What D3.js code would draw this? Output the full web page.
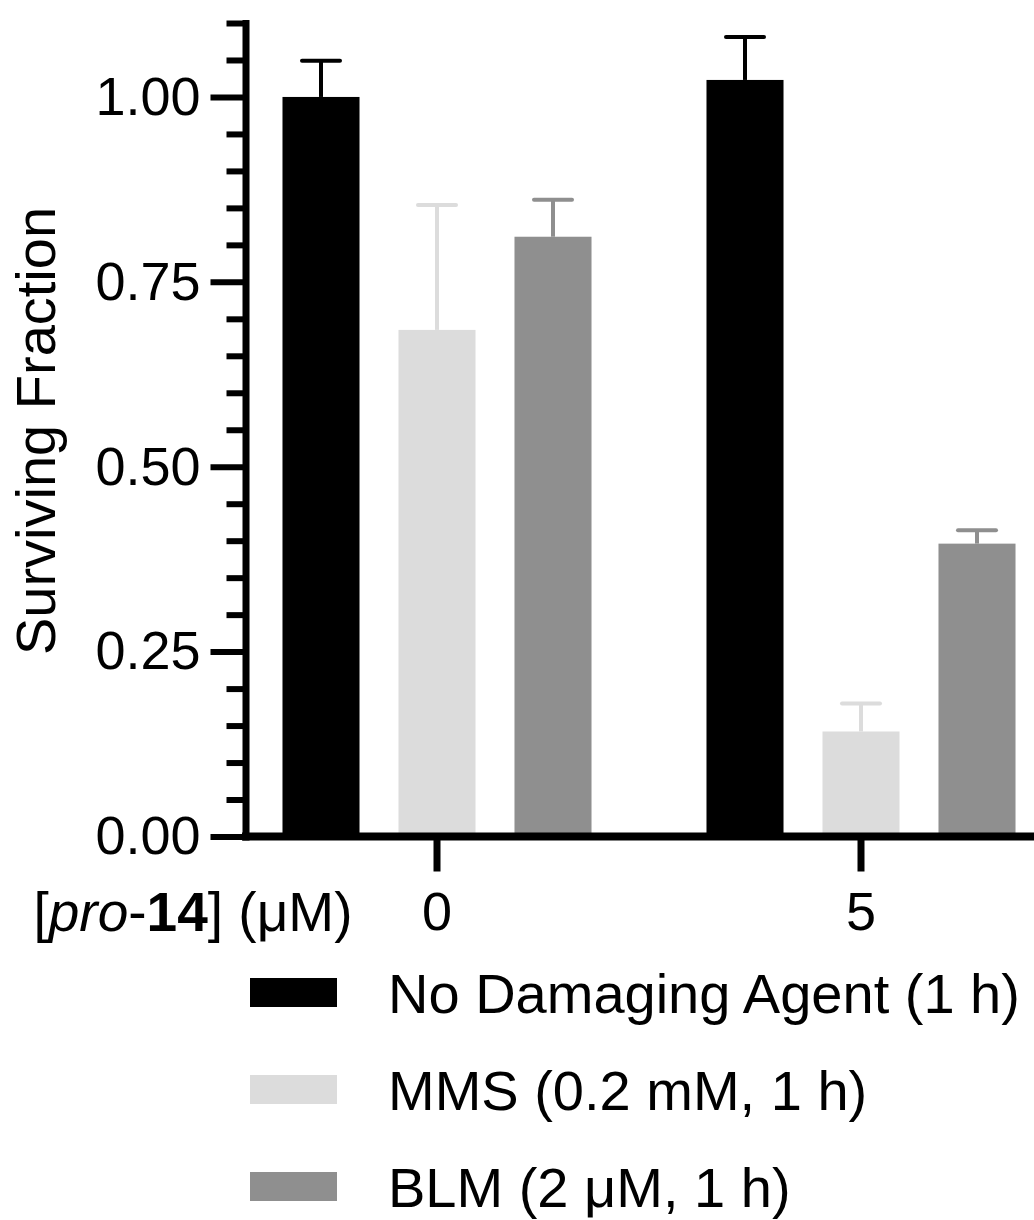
<!DOCTYPE html>
<html>
<head>
<meta charset="utf-8">
<script src="https://cdn.jsdelivr.net/npm/d3@7"></script>
<style>
	body { margin: 0; background: #fff; }
	svg { display: block; font-family: "Liberation Sans", Arial, sans-serif; }
</style>
</head>
<body>
<script>
// data
var groups = ["0", "5"];
var series = ["No Damaging Agent (1 h)", "MMS (0.2 mM, 1 h)", "BLM (2 \u03bcM, 1 h)"];
var colors = ["#000000", "#dcdcdc", "#8f8f8f"];
var values = [
	[1.00, 0.685, 0.811],   // [pro-14] = 0
	[1.023, 0.142, 0.396]   // [pro-14] = 5
];
var errors = [
	[0.049, 0.169, 0.050],
	[0.058, 0.038, 0.018]
];
var yMajorTicks = [0, 0.25, 0.5, 0.75, 1.0];

var w = 1034;
var h = 1220;
var axisX = 245.5;

var svg = d3.select("body")
			.append("svg")
			.attr("width", w)
			.attr("height", h);

var y = d3.scaleLinear()
	.domain([0, 1.1])
	.range([836.5, 23]);

var x0 = d3.scaleBand()
	.domain(groups)
	.range([225, 1073]);

var x1 = d3.scaleBand()
	.domain(d3.range(series.length))
	.range([38, 386])
	.paddingInner(0.336)
	.paddingOuter(0.168);

// bars
var rows = [];
groups.forEach(function(g, gi) {
	series.forEach(function(s, si) {
		rows.push({ group: g, s: si, v: values[gi][si], e: errors[gi][si] });
	});
});

var barG = svg.selectAll("g.bar")
	.data(rows)
	.enter()
	.append("g")
	.attr("class", "bar")
	.attr("transform", function(d) {
		return "translate(" + (x0(d.group) + x1(d.s)) + ",0)";
	});

barG.append("rect")
	.attr("x", 0)
	.attr("width", x1.bandwidth())
	.attr("y", function(d) { return y(d.v); })
	.attr("height", function(d) { return y(0) - y(d.v); })
	.attr("fill", function(d) { return colors[d.s]; });

// upper error bars only
barG.append("line")
	.attr("x1", x1.bandwidth() / 2)
	.attr("x2", x1.bandwidth() / 2)
	.attr("y1", function(d) { return y(d.v); })
	.attr("y2", function(d) { return y(d.v + d.e); })
	.attr("stroke", function(d) { return colors[d.s]; })
	.attr("stroke-width", 4);

barG.append("line")
	.attr("x1", x1.bandwidth() / 2 - 19)
	.attr("x2", x1.bandwidth() / 2 + 19)
	.attr("y1", function(d) { return y(d.v + d.e); })
	.attr("y2", function(d) { return y(d.v + d.e); })
	.attr("stroke", function(d) { return colors[d.s]; })
	.attr("stroke-width", 4)
	.attr("stroke-linecap", "round");

// y axis: minor then major ticks
var minorTicks = d3.range(1, 23).map(function(i) { return i * 0.05; })
	.filter(function(t) { return Math.abs(t * 4 - Math.round(t * 4)) > 1e-6; });

var yMinor = svg.append("g")
	.attr("transform", "translate(" + axisX + ",0)")
	.call(d3.axisLeft(y).tickValues(minorTicks).tickSize(19).tickFormat(""));
yMinor.select(".domain").remove();

var yAxis = svg.append("g")
	.attr("transform", "translate(" + axisX + ",0)")
	.call(d3.axisLeft(y)
		.tickValues(yMajorTicks)
		.tickSize(35)
		.tickSizeOuter(0)
		.tickPadding(10)
		.tickFormat(d3.format(".2f")));

svg.selectAll(".tick line")
	.attr("stroke", "#000")
	.attr("stroke-width", 6);

yAxis.select(".domain")
	.attr("stroke", "#000")
	.attr("stroke-width", 7)
	.attr("stroke-linecap", "square");

yAxis.selectAll("text")
	.attr("font-size", 54)
	.attr("font-family", "Liberation Sans, Arial, sans-serif")
	.attr("fill", "#000");

// x axis
svg.append("line")
	.attr("x1", axisX - 3.5)
	.attr("x2", w + 10)
	.attr("y1", y(0))
	.attr("y2", y(0))
	.attr("stroke", "#000")
	.attr("stroke-width", 8);

var xAxis = svg.append("g")
	.attr("transform", "translate(0," + y(0) + ")")
	.call(d3.axisBottom(x0).tickSize(35).tickPadding(20));
xAxis.select(".domain").remove();
xAxis.selectAll(".tick line")
	.attr("stroke-width", 7);
xAxis.selectAll("text")
	.attr("font-size", 54)
	.attr("font-family", "Liberation Sans, Arial, sans-serif")
	.attr("fill", "#000");

// x label
var xl = svg.append("text")
	.attr("x", 193)
	.attr("y", 931)
	.attr("text-anchor", "middle")
	.attr("font-size", 55);
xl.append("tspan").text("[");
xl.append("tspan").attr("font-style", "italic").text("pro");
xl.append("tspan").text("-");
xl.append("tspan").attr("font-weight", "bold").text("14");
xl.append("tspan").text("] (\u03bcM)");

// y label
svg.append("text")
	.attr("transform", "translate(55,431) rotate(-90)")
	.attr("text-anchor", "middle")
	.attr("font-size", 56)
	.text("Surviving Fraction");

// legend
var legend = svg.selectAll("g.legend")
	.data(series)
	.enter()
	.append("g")
	.attr("class", "legend")
	.attr("transform", function(d, i) {
		return "translate(250," + (978 + i * 97) + ")";
	});

legend.append("rect")
	.attr("width", 87)
	.attr("height", 29)
	.attr("fill", function(d, i) { return colors[i]; });

legend.append("text")
	.attr("x", 138)
	.attr("y", 35)
	.attr("font-size", 56)
	.text(function(d) { return d; });
</script>
</body>
</html>
